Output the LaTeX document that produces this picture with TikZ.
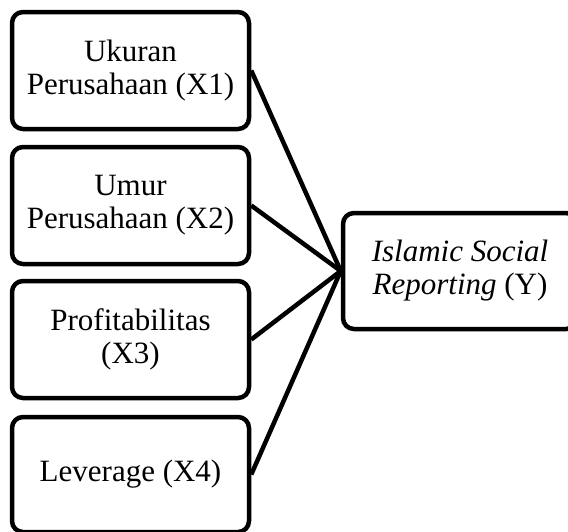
\documentclass[tikz,border=0pt]{standalone}
\usepackage{fontspec}
\setmainfont{Liberation Serif}
\begin{document}
\begin{tikzpicture}[x=1pt,y=-1pt,
  box/.style={draw=black, line width=4.5pt, rounded corners=11pt, inner sep=0pt,
    minimum width=237pt, minimum height=117pt, align=center,
    font=\fontsize{31}{33}\selectfont},
  link/.style={draw=black, line width=4.5pt}]
\useasboundingbox (0,0) rectangle (568,531);
\clip (0,0) rectangle (568,531);
\node[box] (x1) at (130.5,70.5) {Ukuran\\Perusahaan (X1)};
\node[box] (x2) at (130.5,205.5) {Umur\\Perusahaan (X2)};
\node[box] (x3) at (130.5,339.5) {Profitabilitas\\(X3)};
\node[box, minimum height=115pt] (x4) at (130.5,474.5) {Leverage (X4)};
\node[box, minimum width=234pt, minimum height=116pt] (y) at (460,271) {\textit{Islamic Social}\\\textit{Reporting} (Y)};
\draw[link] (x1.east) -- (y.west);
\draw[link] (x2.east) -- (y.west);
\draw[link] (x3.east) -- (y.west);
\draw[link] (x4.east) -- (y.west);
\end{tikzpicture}
\end{document}
